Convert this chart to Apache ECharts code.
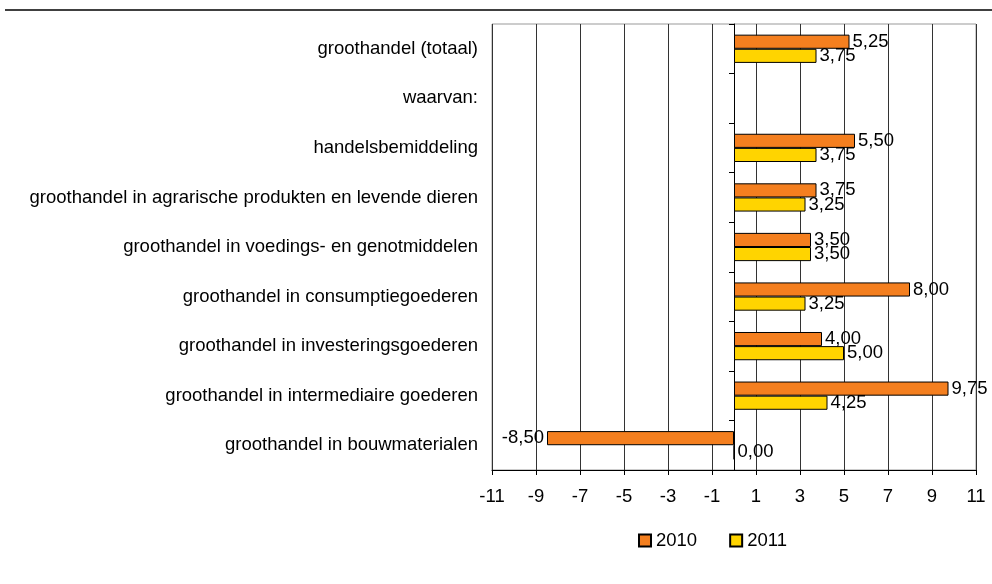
<!DOCTYPE html>
<html><head><meta charset="utf-8">
<script src="https://cdn.jsdelivr.net/npm/echarts@6/dist/echarts.min.js"></script>
<style>html,body{margin:0;padding:0;background:#fff}#c{width:992px;height:584px}</style>
</head><body><div id="c"></div>
<script>
const categories = ['groothandel (totaal)', 'waarvan:', 'handelsbemiddeling', 'groothandel in agrarische produkten en levende dieren', 'groothandel in voedings- en genotmiddelen', 'groothandel in consumptiegoederen', 'groothandel in investeringsgoederen', 'groothandel in intermediaire goederen', 'groothandel in bouwmaterialen'];
const values2010 = [5.25, null, 5.50, 3.75, 3.50, 8.00, 4.00, 9.75, -8.50];
const values2011 = [3.75, null, 3.75, 3.25, 3.50, 3.25, 5.00, 4.25, 0.00];
const xTicks = [-11, -9, -7, -5, -3, -1, 1, 3, 5, 7, 9, 11];

const font = 'Liberation Sans, Arial, sans-serif';
const fs = 18.5;
const fmt = v => v.toFixed(2).replace('.', ',');
function mk(arr) {
  return arr.map(v => v === null ? null : {
    value: v,
    label: { position: v < 0 ? 'left' : 'right' }
  });
}
const chart = echarts.init(document.getElementById('c'));
chart.setOption({
  animation: false,
  textStyle: { fontFamily: font },
  graphic: [{ type: 'line', shape: { x1: 5, y1: 10, x2: 992, y2: 10 }, style: { stroke: '#000', lineWidth: 1.5 } }],
  grid: { left: 492, right: 16, top: 24, bottom: 114, show: true, borderColor: '#999', borderWidth: 1 },
  legend: {
    top: 526, left: 633, itemWidth: 12, itemHeight: 12, itemGap: 32,
    textStyle: { fontSize: fs, color: '#000', fontFamily: font },
    data: [{ name: '2010', icon: 'rect' }, { name: '2011', icon: 'rect' }]
  },
  xAxis: {
    type: 'value', min: -11, max: 11, interval: 2,
    axisLine: { show: true, onZero: false, lineStyle: { color: '#000' } },
    axisTick: { show: true, length: 5, lineStyle: { color: '#000' } },
    axisLabel: { fontSize: fs, color: '#000', margin: 17, fontFamily: font,
      formatter: v => xTicks.includes(v) ? String(v) : '' },
    splitLine: { show: true, lineStyle: { color: '#333', width: 1 } }
  },
  yAxis: [{
    type: 'category', data: categories, inverse: true,
    axisLine: { show: false }, axisTick: { show: false },
    axisLabel: { fontSize: fs, color: '#000', margin: 14, fontFamily: font }
  }, {
    type: 'category', data: categories, inverse: true, position: 'left', offset: -242,
    axisLine: { show: true, onZero: false, lineStyle: { color: '#000' } },
    axisTick: { show: true, length: 5, lineStyle: { color: '#000' } },
    axisLabel: { show: false }
  }],
  series: [{
    name: '2010', type: 'bar', data: mk(values2010), barGap: '0%', barCategoryGap: '43%',
    itemStyle: { color: '#F47F1F', borderColor: '#000', borderWidth: 1 },
    label: { show: true, distance: 3, fontSize: fs, color: '#000', fontFamily: font,
      formatter: p => fmt(p.value) }
  }, {
    name: '2011', type: 'bar', data: mk(values2011),
    itemStyle: { color: '#FFD400', borderColor: '#000', borderWidth: 1 },
    label: { show: true, distance: 3, fontSize: fs, color: '#000', fontFamily: font,
      formatter: p => fmt(p.value) }
  }]
});
</script></body></html>
